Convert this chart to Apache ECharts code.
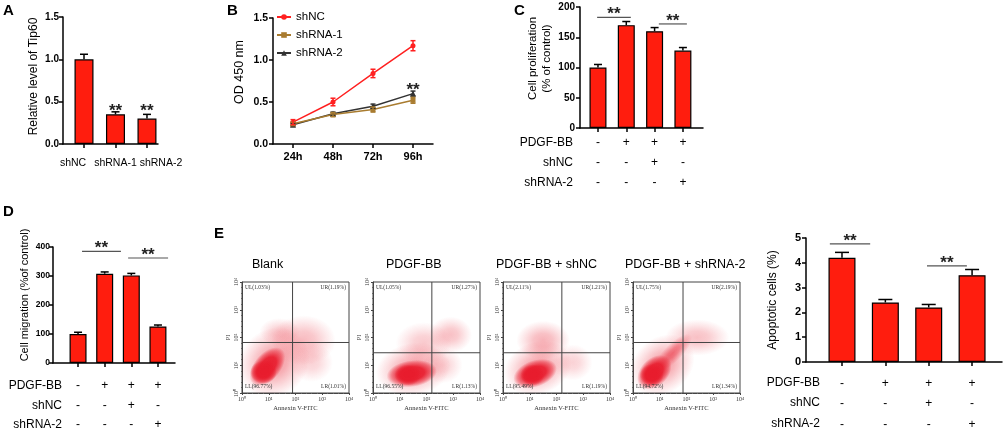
<!DOCTYPE html>
<html><head><meta charset="utf-8">
<script src="https://cdn.jsdelivr.net/npm/echarts@6.0.0/dist/echarts.min.js"></script>
<style>html,body{margin:0;padding:0;background:#fff}#c{width:1004px;height:431px}</style>
</head><body><div id="c"></div>
<script>
// ---------- data ----------
const catA = ['shNC', 'shRNA-1', 'shRNA-2'];
const valA = [1.0, 0.35, 0.30];
const errA = [0.06, 0.03, 0.05];
const starA = [[1, 0.43], [2, 0.43]];

const timeB = ['24h', '48h', '72h', '96h'];
const shNC_B = [0.26, 0.50, 0.84, 1.17];
const shNC_Berr = [0.03, 0.045, 0.05, 0.06];
const shRNA1_B = [0.24, 0.35, 0.41, 0.52];
const shRNA1_Berr = [0.02, 0.025, 0.03, 0.035];
const shRNA2_B = [0.23, 0.36, 0.45, 0.60];
const shRNA2_Berr = [0.015, 0.02, 0.025, 0.03];
const starB = [[3, 0.68]];

const rowNames = ['PDGF-BB', 'shNC', 'shRNA-2'];
const pdgf = ['-', '+', '+', '+'];
const shnc = ['-', '-', '+', '-'];
const shrna2 = ['-', '-', '-', '+'];

const valC = [100, 170, 160, 128];
const errC = [5, 6, 6, 5];
const sigC = [[-0.03, 1.16, 183], [2.15, 3.14, 172]];

const valD = [100, 308, 302, 126];
const errD = [6, 6, 7, 5];
const sigD = [[0.15, 1.61, 385], [1.88, 3.38, 362]];

const valF = [4.2, 2.4, 2.2, 3.5];
const errF = [0.22, 0.12, 0.12, 0.23];
const sigF = [[-0.28, 0.65, 4.76], [1.96, 2.88, 3.88]];

const flowTitles = ['Blank', 'PDGF-BB', 'PDGF-BB + shNC', 'PDGF-BB + shRNA-2'];
const flowTicks = ['10\u2070', '10\u00b9', '10\u00b2', '10\u00b3', '10\u2074'];
const flowGates = [[1.89, 1.82], [2.2, 1.45], [2.2, 1.45], [1.87, 1.82]];
const flowQuad = [
  ['UL(1.03%)', 'UR(1.19%)', 'LL(96.77%)', 'LR(1.01%)'],
  ['UL(1.05%)', 'UR(1.27%)', 'LL(96.55%)', 'LR(1.13%)'],
  ['UL(2.11%)', 'UR(1.21%)', 'LL(95.49%)', 'LR(1.19%)'],
  ['UL(1.75%)', 'UR(2.19%)', 'LL(94.72%)', 'LR(1.34%)']
];
// event density clouds read by eye (log10 units): [x, y, spreadX, spreadY, tiltDeg, density]
const flowBlank = [
  [1.2, 1.1, 1.4, 1.2, 45, 0.45],
  [2.3, 1.9, 1.2, 0.9, 0, 0.3],
  [1.4, 2.2, 0.75, 0.5, 0, 0.22],
  [2.6, 1.1, 0.8, 0.7, 0, 0.2],
  [0.95, 0.95, 0.85, 0.48, 50, 1.0],
  [0.8, 0.75, 0.5, 0.42, 0, 1.0]
];
const flowPDGF = [
  [1.5, 0.85, 1.4, 0.95, 10, 0.42],
  [1.9, 1.8, 1.05, 0.75, 0, 0.24],
  [2.9, 2.1, 0.8, 0.65, 0, 0.28],
  [2.6, 1.0, 0.75, 0.65, 0, 0.2],
  [1.45, 0.7, 0.95, 0.48, 8, 1.0],
  [1.3, 0.65, 0.5, 0.38, 0, 1.0]
];
const flowShNC = [
  [1.3, 0.9, 1.3, 0.95, 20, 0.42],
  [1.5, 1.9, 1.0, 0.7, 0, 0.34],
  [2.6, 1.1, 0.75, 0.65, 0, 0.2],
  [1.2, 0.7, 0.85, 0.48, 20, 1.0],
  [1.1, 0.65, 0.45, 0.38, 0, 1.0]
];
const flowShRNA2 = [
  [1.1, 1.0, 1.3, 1.0, 40, 0.42],
  [2.4, 2.0, 1.2, 0.65, 0, 0.28],
  [1.5, 1.45, 0.95, 0.32, 45, 0.55],
  [0.8, 0.75, 0.75, 0.5, 45, 1.0],
  [0.7, 0.65, 0.45, 0.4, 0, 1.0]
];
const flowData = [flowBlank, flowPDGF, flowShNC, flowShRNA2];

// ---------- styles / layout ----------
const FONT = 'Liberation Sans, Arial, sans-serif';
const SERIF = 'Liberation Serif, Times New Roman, serif';
const RED = '#ff1d0e';
const LABEL_SHIFT_A = [-11, 0, 14];   // px nudges of panel-A category labels (as in the original layout)
const axisLine = { show: true, onZero: false, lineStyle: { color: '#000', width: 1.5 } };
const axisTick = (len) => ({ show: true, length: len, lineStyle: { color: '#000', width: 1.5 } });

const chart = echarts.init(document.getElementById('c'), null, { renderer: 'canvas' });

const grids = [
  { left: 63, top: 17, width: 95, height: 127 },     // A
  { left: 273, top: 18, width: 160, height: 126 },   // B
  { left: 580, top: 7, width: 123, height: 121 },    // C
  { left: 53, top: 247, width: 122, height: 116 },   // D
  { left: 806, top: 238, width: 196, height: 124 },  // F
  { left: 242, top: 282, width: 107, height: 111, show: true, borderColor: '#444', borderWidth: 1 },
  { left: 373, top: 282, width: 107, height: 111, show: true, borderColor: '#444', borderWidth: 1 },
  { left: 503, top: 282, width: 107, height: 111, show: true, borderColor: '#444', borderWidth: 1 },
  { left: 633, top: 282, width: 107, height: 111, show: true, borderColor: '#444', borderWidth: 1 }
].map(g => Object.assign({ outerBoundsMode: 'none', containLabel: false }, g));

const rowsFmt = v => pdgf[v] + '\n' + shnc[v] + '\n' + shrna2[v];

function groupXAxis(gi, min, max, n, fmt, margin, lh, fs, showLabel) {
  const cv = Array.from({ length: n }, (_, i) => i);
  return {
    gridIndex: gi, type: 'value', min, max, axisLine,
    axisTick: Object.assign(axisTick(4), { customValues: cv }),
    axisLabel: { show: showLabel !== false, customValues: cv, formatter: fmt, margin, lineHeight: lh, fontSize: fs, color: '#000', fontFamily: FONT,
      hideOverlap: false, interval: 0, showMinLabel: true, showMaxLabel: true },
    splitLine: { show: false }
  };
}
function valYAxis(gi, min, max, interval, fmt, fs, margin, name, nameGap, nameFs, pad) {
  return {
    gridIndex: gi, type: 'value', min, max, interval, axisLine, axisTick: axisTick(4),
    axisLabel: { formatter: fmt, fontSize: fs, fontWeight: 'bold', color: '#000', margin, fontFamily: FONT },
    splitLine: { show: false },
    name, nameLocation: 'middle', nameGap,
    nameTextStyle: { fontSize: nameFs, color: '#000', fontFamily: FONT, padding: pad, lineHeight: nameFs + 3 }
  };
}

const xAxes = [
  groupXAxis(0, -0.667, 2.35, 3, v => catA[v], 8, 14, 10.5, false),
  { gridIndex: 1, type: 'category', data: timeB, boundaryGap: true, axisLine,
    axisTick: Object.assign(axisTick(4), { alignWithLabel: true }),
    axisLabel: { fontSize: 11, fontWeight: 'bold', color: '#000', margin: 7, fontFamily: FONT } },
  groupXAxis(2, -0.635, 3.71, 4, rowsFmt, 5, 20, 12),
  groupXAxis(3, -0.94, 3.64, 4, rowsFmt, 13, 19.5, 12),
  groupXAxis(4, -0.83, 3.69, 4, rowsFmt, 11, 20.5, 12)
];
const yAxes = [
  valYAxis(0, 0, 1.5, 0.5, v => v.toFixed(1), 10, 4, 'Relative level of Tip60', 22, 12, [0, 0, 0, 8]),
  valYAxis(1, 0, 1.5, 0.5, v => v.toFixed(1), 10.5, 5, 'OD 450 nm', 26, 12.5, [0, 0, 0, 18]),
  valYAxis(2, 0, 200, 50, v => v, 10, 5, 'Cell proliferation\n(% of control)', 20, 11.5, [0, 0, 0, 18]),
  valYAxis(3, 0, 400, 100, v => v, 8.5, 3, 'Cell migration (%of control)', 13, 11, [0, 0, 0, 20]),
  valYAxis(4, 0, 5, 1, v => v, 11, 5, 'Apoptotic cells (%)', 26, 12, [0, 0, 0, 0])
];
for (let k = 0; k < 4; k++) {
  const gi = 5 + k;
  xAxes.push({
    gridIndex: gi, type: 'value', min: 0, max: 4, interval: 1,
    axisLine: { show: true, onZero: false, lineStyle: { color: '#444', width: 1 } },
    axisTick: { show: true, length: 2, lineStyle: { color: '#444' } },
    minorTick: { show: true, splitNumber: 5, length: 1, lineStyle: { color: '#666' } },
    axisLabel: { formatter: v => flowTicks[v], fontSize: 6, margin: 3, color: '#333', fontFamily: SERIF },
    splitLine: { show: false },
    name: 'Annexin V-FITC', nameLocation: 'middle', nameGap: 12,
    nameTextStyle: { fontSize: 6.5, color: '#333', fontFamily: SERIF }
  });
  yAxes.push({
    gridIndex: gi, type: 'value', min: 0, max: 4, interval: 1,
    axisLine: { show: true, onZero: false, lineStyle: { color: '#444', width: 1 } },
    axisTick: { show: true, length: 2, lineStyle: { color: '#444' } },
    minorTick: { show: true, splitNumber: 5, length: 1, lineStyle: { color: '#666' } },
    axisLabel: { formatter: v => flowTicks[v], fontSize: 6, margin: 3, rotate: 90, color: '#333', fontFamily: SERIF },
    splitLine: { show: false },
    name: 'PI', nameLocation: 'middle', nameGap: 11,
    nameTextStyle: { fontSize: 6, color: '#333', fontFamily: SERIF }
  });
}

// ---------- series helpers ----------
function barSeries(ai, vals, w) {
  return { type: 'bar', xAxisIndex: ai, yAxisIndex: ai, barWidth: w, data: vals.map((v, i) => [i, v]),
    itemStyle: { color: RED, borderColor: '#000', borderWidth: 1.2 }, silent: true, animation: false };
}
function errSeries(ai, vals, errs, cap, color, twoSided) {
  return {
    type: 'custom', xAxisIndex: ai, yAxisIndex: ai, z: 4, silent: true, animation: false,
    data: vals.map((v, i) => [i, v, errs[i]]),
    renderItem: (p, api) => {
      const x = api.value(0), y = api.value(1), e = api.value(2);
      const t = api.coord([x, y + e]), b = api.coord([x, twoSided ? y - e : y]);
      const st = { stroke: color, lineWidth: 1.5 };
      const ch = [
        { type: 'line', shape: { x1: t[0], y1: t[1], x2: b[0], y2: b[1] }, style: st },
        { type: 'line', shape: { x1: t[0] - cap / 2, y1: t[1], x2: t[0] + cap / 2, y2: t[1] }, style: st }
      ];
      if (twoSided) ch.push({ type: 'line', shape: { x1: b[0] - cap / 2, y1: b[1], x2: b[0] + cap / 2, y2: b[1] }, style: st });
      return { type: 'group', children: ch };
    }
  };
}
// category labels for panel A placed under each bar through the axis scale
function catLabelSeries(ai, cats, offset, fs, shifts) {
  return {
    type: 'custom', xAxisIndex: ai, yAxisIndex: ai, silent: true, animation: false,
    data: cats.map((c, i) => [i, 0]),
    renderItem: (p, api) => {
      const c = api.coord([api.value(0), 0]);
      return { type: 'text', x: c[0] + shifts[p.dataIndex], y: c[1] + offset,
        style: { text: cats[p.dataIndex], font: fs + 'px ' + FONT, fill: '#000', align: 'center', verticalAlign: 'middle' } };
    }
  };
}
const STAR_FS = 17;
function starText(x, y) {
  return { type: 'text', x, y: y + 0.2 * STAR_FS,
    style: { text: '**', font: 'bold ' + STAR_FS + 'px ' + FONT, fill: '#222', align: 'center', verticalAlign: 'middle' } };
}
function sigSeries(ai, data) {
  return {
    type: 'custom', xAxisIndex: ai, yAxisIndex: ai, z: 5, silent: true, animation: false, data,
    renderItem: (p, api) => {
      const a = api.coord([api.value(0), api.value(2)]), b = api.coord([api.value(1), api.value(2)]);
      return { type: 'group', children: [
        { type: 'line', shape: { x1: a[0], y1: a[1], x2: b[0], y2: b[1] }, style: { stroke: '#555', lineWidth: 1.2 } },
        starText((a[0] + b[0]) / 2, a[1] - 6)
      ] };
    }
  };
}
function starSeries(ai, data) {
  return {
    type: 'custom', xAxisIndex: ai, yAxisIndex: ai, z: 5, silent: true, animation: false, data,
    renderItem: (p, api) => { const c = api.coord([api.value(0), api.value(1)]); return starText(c[0], c[1]); }
  };
}
function flowSeries(k) {
  const ai = 5 + k;
  const blobs = {
    type: 'custom', xAxisIndex: ai, yAxisIndex: ai, silent: true, animation: false, clip: true, z: 2,
    data: flowData[k],
    renderItem: (p, api) => {
      const x = api.value(0), y = api.value(1), sx = api.value(2), sy = api.value(3), ang = api.value(4), d = api.value(5);
      const c = api.coord([x, y]);
      const rx = api.coord([x + sx, y])[0] - c[0];
      const ry = c[1] - api.coord([x, y + sy])[1];
      const col = a => 'rgba(232,28,45,' + Math.min(1, a).toFixed(3) + ')';
      const stops = d >= 0.9
        ? [{ offset: 0, color: col(d) }, { offset: 0.5, color: col(d * 0.92) }, { offset: 0.8, color: col(d * 0.45) }, { offset: 1, color: col(0) }]
        : [{ offset: 0, color: col(d) }, { offset: 0.35, color: col(d * 0.8) }, { offset: 0.7, color: col(d * 0.35) }, { offset: 1, color: col(0) }];
      return {
        type: 'circle', x: c[0], y: c[1], rotation: ang * Math.PI / 180, scaleX: 1, scaleY: ry / rx,
        shape: { cx: 0, cy: 0, r: rx },
        style: { fill: new echarts.graphic.RadialGradient(0.5, 0.5, 0.5, stops) }
      };
    }
  };
  const gate = {
    type: 'custom', xAxisIndex: ai, yAxisIndex: ai, silent: true, animation: false, z: 3,
    data: [flowGates[k]],
    renderItem: (p, api) => {
      const gx = api.value(0), gy = api.value(1);
      const v0 = api.coord([gx, 0]), v1 = api.coord([gx, 4]);
      const h0 = api.coord([0, gy]), h1 = api.coord([4, gy]);
      const tl = api.coord([0, 4]), br = api.coord([4, 0]);
      const q = flowQuad[k];
      const ts = (t, x, y, al, va) => ({ type: 'text', x, y,
        style: { text: t, font: '5.5px ' + SERIF, fill: '#333', align: al, verticalAlign: va } });
      const st = { stroke: '#444', lineWidth: 1 };
      return { type: 'group', children: [
        { type: 'line', shape: { x1: v0[0], y1: v0[1], x2: v1[0], y2: v1[1] }, style: st },
        { type: 'line', shape: { x1: h0[0], y1: h0[1], x2: h1[0], y2: h1[1] }, style: st },
        ts(q[0], tl[0] + 3, tl[1] + 3, 'left', 'top'),
        ts(q[1], br[0] - 3, tl[1] + 3, 'right', 'top'),
        ts(q[2], tl[0] + 3, br[1] - 3, 'left', 'bottom'),
        ts(q[3], br[0] - 3, br[1] - 3, 'right', 'bottom')
      ] };
    }
  };
  return [blobs, gate];
}

const lineB = (name, vals, color, symbol, size) => ({
  name, type: 'line', xAxisIndex: 1, yAxisIndex: 1, data: vals, symbol, symbolSize: size,
  itemStyle: { color }, lineStyle: { color, width: 1.5 }, animation: false, z: 3
});

const series = [
  barSeries(0, valA, 19), errSeries(0, valA, errA, 8, '#000', false), starSeries(0, starA),
  catLabelSeries(0, catA, 19, 10.5, LABEL_SHIFT_A),
  lineB('shRNA-2', shRNA2_B, '#333333', 'triangle', 6),
  lineB('shRNA-1', shRNA1_B, '#a97c30', 'rect', 5),
  lineB('shNC', shNC_B, '#ff2020', 'circle', 5),
  errSeries(1, shRNA2_B, shRNA2_Berr, 5, '#333333', true),
  errSeries(1, shRNA1_B, shRNA1_Berr, 5, '#a97c30', true),
  errSeries(1, shNC_B, shNC_Berr, 5, '#ff2020', true),
  starSeries(1, starB),
  barSeries(2, valC, 17), errSeries(2, valC, errC, 8, '#000', false), sigSeries(2, sigC),
  barSeries(3, valD, 17), errSeries(3, valD, errD, 8, '#000', false), sigSeries(3, sigD),
  barSeries(4, valF, 27), errSeries(4, valF, errF, 14, '#000', false), sigSeries(4, sigF)
];
for (let k = 0; k < 4; k++) series.push(...flowSeries(k));

const titleStyle = (t, left, top, fs, bold) => ({ text: t, left, top, padding: 0,
  textStyle: { fontSize: fs, fontWeight: bold ? 'bold' : 'normal', color: '#000', fontFamily: FONT } });
const titles = [
  titleStyle('A', 3, 3, 15, true), titleStyle('B', 227, 3, 15, true), titleStyle('C', 514, 3, 15, true),
  titleStyle('D', 3, 204, 15, true), titleStyle('E', 214, 226, 15, true),
  titleStyle(flowTitles[0], 252, 258, 12.5), titleStyle(flowTitles[1], 386, 258, 12.5),
  titleStyle(flowTitles[2], 496, 258, 12.5), titleStyle(flowTitles[3], 625, 258, 12.5)
];

const rowLabel = (t, x, y) => ({ type: 'text', x, y, silent: true,
  style: { text: t, font: '12px ' + FONT, fill: '#000', align: 'right', verticalAlign: 'middle', textAlign: 'right', textVerticalAlign: 'middle' } });
const graphics = [];
[[573, [143, 163, 183]], [62, [386, 406, 425]], [820, [383, 403, 424]]].forEach(([x, ys]) => {
  rowNames.forEach((n, i) => graphics.push(rowLabel(n, x, ys[i])));
});

chart.setOption({
  animation: false,
  textStyle: { fontFamily: FONT },
  title: titles,
  legend: {
    data: ['shNC', 'shRNA-1', 'shRNA-2'], orient: 'vertical', left: 276, top: 11, padding: 0,
    itemWidth: 14, itemHeight: 7, itemGap: 6, textStyle: { fontSize: 11.5, color: '#000', fontFamily: FONT }
  },
  grid: grids, xAxis: xAxes, yAxis: yAxes, series,
  graphic: { elements: graphics }
});
</script></body></html>
